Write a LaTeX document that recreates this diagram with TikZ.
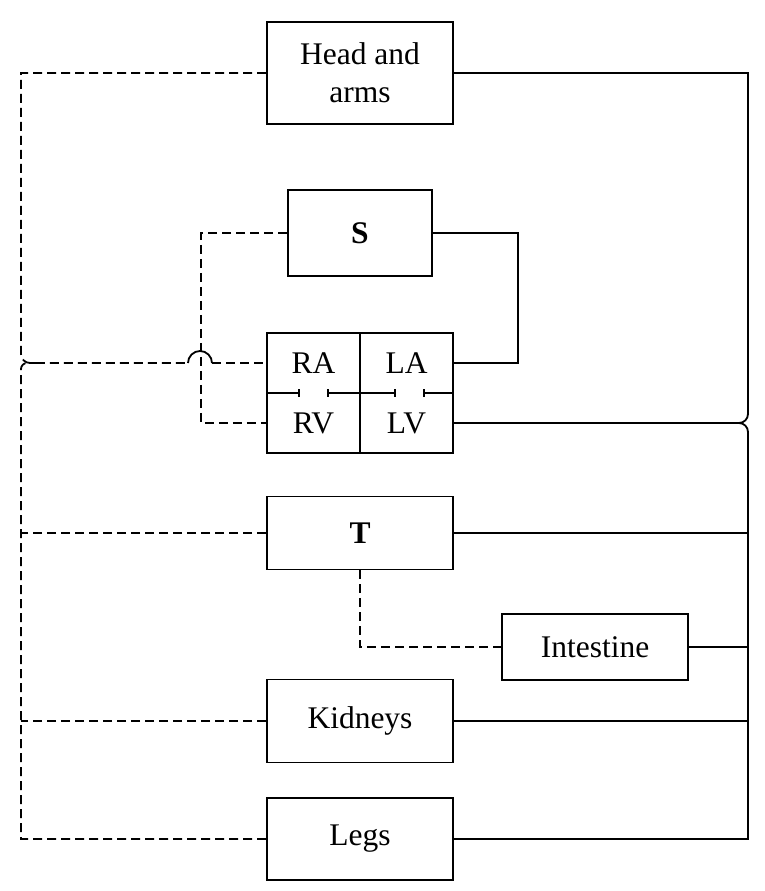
\documentclass[tikz,border=0pt]{standalone}
\usepackage{fontspec}
\setmainfont{Liberation Serif}
\begin{document}
\begin{tikzpicture}[x=1pt,y=-1pt,
  organ/.style={draw,line width=1.8pt,minimum width=186pt,inner sep=0pt,align=center,font=\fontsize{31.5}{38}\selectfont},
  quad/.style={minimum width=93pt,minimum height=60pt,inner sep=0pt,font=\fontsize{31.5}{38}\selectfont},
  vein/.style={line width=1.8pt,dash pattern=on 9pt off 5pt},
  artery/.style={line width=1.8pt},
  wall/.style={line width=1.8pt}]
\useasboundingbox (0,0) rectangle (764,891);
\node[organ,minimum height=102pt] (ha) at (360,73) {Head and\\arms};
\node[organ,minimum width=144pt,minimum height=86pt] (s) at (360,233) {\textbf{S}};
\node[quad] (ra) at (313.5,363) {RA};
\node[quad] (la) at (406.5,363) {LA};
\node[quad] (rv) at (313.5,423) {RV};
\node[quad] (lv) at (406.5,423) {LV};
\draw[wall] (ra.north west) rectangle (lv.south east);
\draw[wall] (la.north west) -- (lv.south west);
\draw[wall] (ra.south west) -- ++(32,0) coordinate (v1) ++(0,-4) -- ++(0,8);
\draw[wall] (ra.south east) -- ++(-32,0) coordinate (v2) ++(0,-4) -- ++(0,8);
\draw[wall] (la.south west) -- ++(35,0) coordinate (v3) ++(0,-4) -- ++(0,8);
\draw[wall] (la.south east) -- ++(-29,0) coordinate (v4) ++(0,-4) -- ++(0,8);
\node[organ,minimum height=73pt] (t) at (360,533) {\textbf{T}};
\node[organ,minimum height=66pt] (int) at (595,647) {Intestine};
\node[organ,minimum height=83pt] (kid) at (360,721) {Kidneys};
\node[organ,minimum height=82pt] (legs) at (360,839) {Legs};
% left dashed (venous) collector
\coordinate (lx) at (21,363);
\coordinate (hopl) at (188,363);
\coordinate (hopr) at (212,363);
\draw[vein] (ha.west) -- (21,73) [rounded corners=9pt] -- (lx) -- (80,363) [sharp corners] -- (hopl);
\draw[artery] (hopl) arc[start angle=180,end angle=0,radius=12pt];
\draw[vein] (hopr) -- (ra.west);
\draw[vein] (legs.west) -- (21,839) [rounded corners=6pt] -- (lx) -- (40,363);
\draw[vein] (t.west) -- (21,533);
\draw[vein] (kid.west) -- (21,721);
% S to RV
\draw[vein] (s.west) -- (201,233) -- (201,423) -- (rv.west);
% T to intestine
\draw[vein] (t.south) -- (360,647) -- (int.west);
% right solid (arterial) collector
\coordinate (rx) at (748,423);
\draw[artery] (ha.east) -- (748,73) [rounded corners=9pt] -- (rx) -- (lv.east);
\draw[artery] (legs.east) -- (748,839) [rounded corners=9pt] -- (rx) -- (728,423);
\draw[artery] (t.east) -- (748,533);
\draw[artery] (int.east) -- (748,647);
\draw[artery] (kid.east) -- (748,721);
% S to LA
\draw[artery] (s.east) -- (518,233) -- (518,363) -- (la.east);
\end{tikzpicture}
\end{document}
